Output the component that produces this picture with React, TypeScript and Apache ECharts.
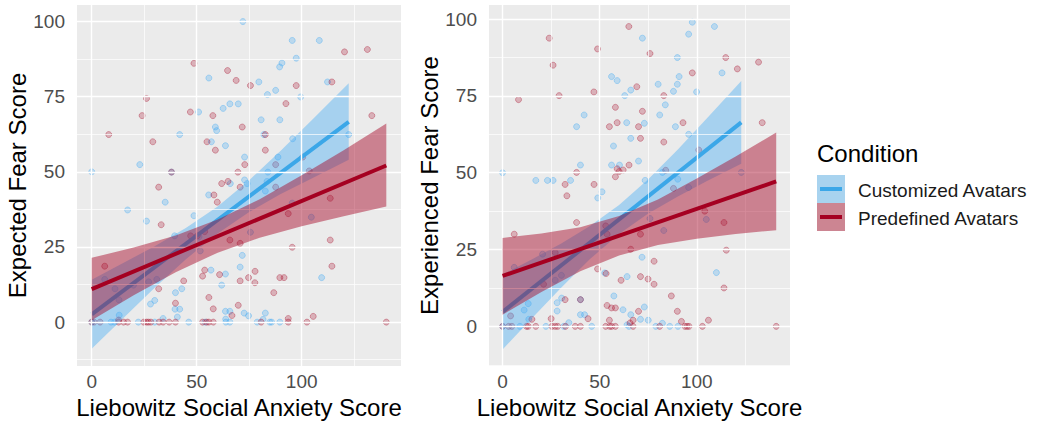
import React, { useEffect, useRef } from "react";
import * as echarts from "echarts";

// ---------- Data ----------
const xTicks = [0, 50, 100];
const xMinor = [25, 75, 125];
const yTicks = [0, 25, 50, 75, 100];
const yMinor = [-12.5, 12.5, 37.5, 62.5, 87.5];

const conditions = ["Customized Avatars", "Predefined Avatars"];

// Expected Fear (left panel) — scatter points [LSAS, fear]
const expectedCustomized: number[][] = [
  [72, 100], [95.5, 93.7], [108.4, 93.7], [97.4, 87.8], [90.6, 86.2], [89.5, 84.9], [55.8, 81.2], [79.6, 79.9],
  [112.3, 79.9], [87.6, 77.1], [83.7, 75.7], [99.5, 74.9], [65.8, 72.6], [69.8, 72.6], [62.6, 71.1], [50.9, 69.9],
  [80.7, 67.3], [89.6, 67.3], [58.9, 64.9], [59.5, 63.7], [41.9, 62.4], [82, 62.4], [57, 60], [63.7, 58.7],
  [95.7, 61], [122.4, 62.4], [22.9, 52.4], [0, 50], [72.8, 54.9], [88.7, 54.9], [83.9, 49.9], [72.8, 47.3],
  [66, 46.1], [74, 46.1], [82.7, 43.6], [55.7, 42.3], [35, 39.9], [17.1, 37.3], [26.1, 33.6], [48.7, 35.4],
  [95.5, 39.6], [104.6, 34.9], [75.6, 29.9], [39.5, 28.7], [51.1, 28.4], [83.5, 46.8], [38, 49.9],
  [71.7, 22.2], [70.7, 18.3], [56.8, 17.3], [63.7, 16], [61.9, 12.3], [109.5, 14.8], [31, 14.2], [27.1, 13.4],
  [19.9, 12.3], [6.2, 14.2], [11.1, 11.1], [42.9, 11.1], [39.9, 9.8], [13, 7.4], [30, 7.2], [28, 6],
  [39.7, 4.3], [41.9, 4.3], [63.7, 3.6], [65.8, 3.6], [72.6, 3], [74.7, 2.1], [82.7, 3], [81.6, 0.9],
  [13.1, 2.3], [40.8, 1.7], [34, 1.2], [63.8, 1], [51.7, 23.7],
  [0, 0], [9.2, 0], [10.9, 0], [22.2, 0], [30, 0], [46.2, 0], [54, 0], [63.9, 0], [65.8, 0], [78.8, 0],
  [84.8, 0], [85.7, 0], [89.6, 0],
];
const expectedPredefined: number[][] = [
  [120.4, 89.9], [131.3, 90.7], [48.7, 86.1], [64.7, 83.7], [68.8, 80.4], [75.6, 78.7], [97.4, 78.7], [114.4, 79.9],
  [26.1, 74.4], [92.5, 72.7], [24, 68.7], [47, 69.9], [57.7, 68.7], [133.4, 68.7], [71.7, 64.9],
  [8.1, 62.4], [29.1, 60], [54.9, 60], [58.9, 57.2], [82.7, 62.4], [82.7, 57.2], [72.9, 52.4], [69.6, 49.9],
  [38, 49.9], [87.6, 52.4], [64.9, 46.8], [61.9, 46.1], [70.7, 44.9], [31.9, 44.9], [87.6, 44.9], [103.6, 50.3],
  [58.2, 42.3], [59.8, 39.9], [113.6, 41.2], [93.6, 36.1], [33.1, 32.4], [53.8, 30.1], [47.1, 28.7], [50.3, 28.7],
  [65.8, 27.3], [70.7, 26.2], [95.5, 24.9], [113.6, 27.3], [100.5, 54.9],
  [6.2, 18.6], [114.4, 18.6], [53.8, 17.3], [52.8, 15.3], [60.9, 15.8], [77.8, 16.9], [74.7, 14.8], [77.7, 13.1],
  [70.7, 13.7], [89.6, 14.8], [91.6, 14.8], [43.8, 13.7], [31.9, 11.1], [55.8, 8.2], [86.7, 9.8], [39.9, 6.3],
  [57.9, 4.4], [69.8, 5.6], [66.8, 2.2], [93.6, 1.2], [105.5, 1.9], [12.8, 0.7],
  [0, 0], [1.1, 0], [4, 0], [12.8, 0], [15.2, 0], [17.1, 0], [24.8, 0], [26.1, 0], [27, 0], [28.2, 0],
  [32.1, 0], [34, 0], [36.9, 0], [39.9, 0], [52.8, 0], [54.7, 0], [55.8, 0], [57.9, 0], [80.7, 0], [93.6, 0],
  [102.5, 0], [140.3, 0],
];

// Experienced Fear (right panel)
const experiencedCustomized: number[][] = [
  [97.7, 99], [109.1, 97.6], [72, 93.8], [95.8, 95.1], [90, 87.5], [113, 82.5], [56.1, 81.3], [59, 80],
  [90.9, 81.3], [90, 78.8], [80.1, 78.8], [88, 76.5], [99.9, 76.3], [66, 76.9], [62.9, 75.1], [83.8, 72.1],
  [42, 68.8], [80.9, 68.8], [63.9, 66.3], [73, 66.1], [38.1, 65], [89, 65],
  [66, 61.2], [95.8, 62.5], [57.1, 58.7], [70, 53.8], [40.1, 52.5], [56.1, 52.5], [60.2, 52.5], [0, 50],
  [17.1, 47.5], [23.1, 47.5], [26, 47.5], [35, 47.5], [51.2, 43.8], [49, 41.8], [73.4, 47.5], [82.3, 50.1],
  [90.2, 47.9], [95.8, 45.2], [122.9, 50.1], [75.9, 35.1], [83, 31.2], [104.9, 34.8],
  [71.8, 22.5], [52.6, 17.4], [64.1, 16.2], [110.1, 17.5], [20.6, 23.5], [27.1, 15], [30.3, 16.6], [57.3, 9.9],
  [30.4, 9.2], [28.1, 7.7], [28.1, 5], [13.2, 7.4], [11.1, 5.3], [40.1, 3.8], [42.2, 3.8], [62, 5.4],
  [66, 3.8], [73, 6.3], [71, 2.3], [75, 2], [82.3, 1], [34.1, 1.2], [13.5, 2.3], [64.1, 0.5], [6, 19.2], [40.1, 8.7],
  [0, 0], [8.9, 0], [22.3, 0], [31.5, 0], [45.9, 0], [65.1, 0], [78.9, 0], [86.1, 0], [90.3, 0],
];
const experiencedPredefined: number[][] = [
  [65, 97.6], [24, 93.8], [26, 85], [48.9, 90.3], [75.9, 88.8], [114.9, 87.5], [131.8, 86], [120.9, 83.8],
  [97.7, 82.5], [69.1, 78], [29.1, 75.1], [47, 76.3], [83, 75.1], [8.2, 73.8], [58.1, 71.3], [72, 70],
  [59, 66.3], [55, 65], [70, 65], [92.9, 66.3], [133.7, 66.3],
  [83, 60], [71, 61.2], [101, 57.4], [65.1, 52.5], [59, 51.3], [62.1, 50.9], [58.1, 48.7], [60, 50.4],
  [38.1, 50.1], [32.2, 46.2], [47.1, 46.2], [33.1, 42.5], [84, 50.8], [88, 44.9], [38.1, 33.8], [6, 30],
  [53.1, 32.7], [53.8, 30], [71, 30], [104.1, 37.5], [114, 33.8], [66, 25.1], [115.2, 24.8],
  [27.1, 24], [48.9, 18.7], [53.3, 17.2], [78, 21.2], [61, 15], [71, 16.2], [74.9, 15.4], [78, 13.7],
  [21.1, 13.7], [86.9, 9.9], [114, 12.5], [32.2, 8.7], [40.1, 8.7], [53.8, 6.8], [56.1, 6], [58.1, 6],
  [70, 4.9], [90, 4.9], [44, 2.5], [25, 2.5], [15.1, 2.3], [4.1, 3.4], [55, 2], [67.2, 2], [92.1, 1.6],
  [106, 2], [65.6, 1.1],
  [0, 0], [3.1, 0], [4.8, 0], [12.3, 0], [13.2, 0], [17.1, 0], [25.4, 0], [27.1, 0], [28.4, 0], [32.4, 0],
  [37.4, 0], [40.1, 0], [53.1, 0], [55.2, 0], [56.2, 0], [58.1, 0], [67.2, 0], [80.9, 0], [93.9, 0], [95, 0],
  [96, 0], [102.9, 0], [140.9, 0],
];

// Regression fits (end points) and confidence bands [x, lower, upper]
const expCustFit = [[0, 2.6], [122.4, 66.6]];
const expPredFit = [[0, 11.0], [140.3, 52.1]];
const expCustBand = [
  [0, -8.9, 14.1], [15, 1.3, 19.7], [30, 11.4, 25.2], [45, 21.0, 31.4], [60, 29.5, 38.5],
  [75, 36.6, 47.2], [90, 42.6, 57.0], [105, 47.9, 67.3], [122.4, 54.0, 79.5],
];
const expPredBand = [
  [0, 0.6, 21.4], [20, 8.9, 24.8], [40, 16.6, 28.8], [60, 23.1, 34.1], [80, 28.1, 40.9],
  [100, 31.9, 48.9], [120, 35.2, 57.2], [140.3, 38.5, 66.1],
];
const experCustFit = [[0, 4.7], [122.9, 66.4]];
const experPredFit = [[0, 16.4], [140.9, 47.2]];
const experCustBand = [
  [0, -7.5, 16.9], [15, 2.6, 21.8], [30, 12.5, 26.9], [45, 21.9, 32.7], [60, 30.1, 39.5],
  [75, 36.7, 47.9], [90, 42.2, 57.4], [105, 47.2, 67.6], [122.9, 52.9, 79.9],
];
const experPredBand = [
  [0, 3.8, 28.8], [20, 11.2, 30.2], [40, 17.9, 32.3], [60, 23.1, 35.9], [80, 26.5, 41.3],
  [100, 28.5, 48.1], [120, 30.1, 55.3], [140.9, 31.3, 63.1],
];

// ---------- Styling ----------
const BLUE = "#3BA7E8";
const RED = "#A50021";
const BLUE_BAND = "rgba(63,169,245,0.4)";
const RED_BAND = "rgba(165,0,33,0.45)";
const BLUE_PT = "rgba(63,169,245,0.28)";
const BLUE_PT_EDGE = "rgba(63,169,245,0.45)";
const RED_PT = "rgba(165,0,33,0.25)";
const RED_PT_EDGE = "rgba(165,0,33,0.4)";
const FONT = "'Liberation Sans', Arial, Helvetica, sans-serif";
const TICK_FS = 19;
const TITLE_FS = 24;

function gridLines(idx: number) {
  const major = { color: "#FFFFFF", width: 1.4, type: "solid" };
  const minor = { color: "#FFFFFF", width: 0.7, type: "solid" };
  return {
    type: "scatter",
    xAxisIndex: idx,
    yAxisIndex: idx,
    data: [],
    z: 1,
    silent: true,
    markLine: {
      silent: true,
      symbol: ["none", "none"],
      label: { show: false },
      animation: false,
      data: [
        ...xMinor.map((v) => ({ xAxis: v, lineStyle: minor })),
        ...yMinor.map((v) => ({ yAxis: v, lineStyle: minor })),
        ...xTicks.map((v) => ({ xAxis: v, lineStyle: major })),
        ...yTicks.map((v) => ({ yAxis: v, lineStyle: major })),
      ],
    },
  };
}

function scatter(idx: number, data: number[][], fill: string, edge: string) {
  return {
    type: "scatter",
    xAxisIndex: idx,
    yAxisIndex: idx,
    data,
    symbolSize: 6,
    z: 2,
    silent: true,
    itemStyle: { color: fill, borderColor: edge, borderWidth: 0.8, opacity: 1 },
  };
}

function band(idx: number, rows: number[][], color: string, z: number) {
  return {
    type: "custom",
    xAxisIndex: idx,
    yAxisIndex: idx,
    z,
    silent: true,
    data: rows,
    encode: { x: 0, y: [1, 2] },
    renderItem: (params: any, api: any) => {
      if (params.dataIndex !== 0) return null;
      const top = rows.map((r) => api.coord([r[0], r[2]]));
      const bot = rows.map((r) => api.coord([r[0], r[1]])).reverse();
      return {
        type: "polygon",
        shape: { points: top.concat(bot) },
        style: { fill: color, stroke: "none" },
      };
    },
  };
}

function fitLine(idx: number, data: number[][], color: string, z: number) {
  return {
    type: "line",
    xAxisIndex: idx,
    yAxisIndex: idx,
    data,
    z,
    silent: true,
    symbol: "none",
    lineStyle: { color, width: 4, cap: "butt" },
  };
}

function xAxis(idx: number, min: number, max: number) {
  return {
    type: "value",
    gridIndex: idx,
    min,
    max,
    splitLine: { show: false },
    axisLine: { show: false },
    axisTick: { show: true, length: 4, lineStyle: { color: "#333333", width: 1 }, customValues: xTicks },
    axisLabel: { customValues: xTicks, color: "#4D4D4D", fontSize: TICK_FS, margin: 6, fontFamily: FONT },
    name: "Liebowitz Social Anxiety Score",
    nameLocation: "middle",
    nameGap: 29,
    nameTextStyle: { color: "#000000", fontSize: TITLE_FS, fontFamily: FONT },
  };
}

function yAxis(idx: number, min: number, max: number, name: string, gap: number) {
  return {
    type: "value",
    gridIndex: idx,
    min,
    max,
    splitLine: { show: false },
    axisLine: { show: false },
    axisTick: { show: true, length: 4, lineStyle: { color: "#333333", width: 1 }, customValues: yTicks },
    axisLabel: { customValues: yTicks, color: "#4D4D4D", fontSize: TICK_FS, margin: 12, fontFamily: FONT },
    name,
    nameLocation: "middle",
    nameGap: gap,
    nameTextStyle: { color: "#000000", fontSize: TITLE_FS, fontFamily: FONT },
  };
}

export default function App() {
  const ref = useRef<HTMLDivElement>(null);
  useEffect(() => {
    if (!ref.current) return;
    const chart = echarts.init(ref.current, undefined, { renderer: "svg" });
    const legendX = 817;
    chart.setOption({
      animation: false,
      backgroundColor: "#FFFFFF",
      textStyle: { fontFamily: FONT },
      grid: [
        { left: 77, top: 5, width: 324, height: 361, show: true, backgroundColor: "#EBEBEB", borderWidth: 0 },
        { left: 489, top: 5, width: 301, height: 361, show: true, backgroundColor: "#EBEBEB", borderWidth: 0 },
      ],
      xAxis: [xAxis(0, -7, 147.3), xAxis(1, -7, 148)],
      yAxis: [
        yAxis(0, -14.6, 105.5, "Expected Fear Score", 48),
        yAxis(1, -12.9, 104.6, "Experienced Fear Score", 42),
      ],
      series: [
        gridLines(0),
        gridLines(1),
        scatter(0, expectedCustomized, BLUE_PT, BLUE_PT_EDGE),
        scatter(0, expectedPredefined, RED_PT, RED_PT_EDGE),
        scatter(1, experiencedCustomized, BLUE_PT, BLUE_PT_EDGE),
        scatter(1, experiencedPredefined, RED_PT, RED_PT_EDGE),
        band(0, expCustBand, BLUE_BAND, 3),
        fitLine(0, expCustFit, BLUE, 4),
        band(0, expPredBand, RED_BAND, 5),
        fitLine(0, expPredFit, RED, 6),
        band(1, experCustBand, BLUE_BAND, 3),
        fitLine(1, experCustFit, BLUE, 4),
        band(1, experPredBand, RED_BAND, 5),
        fitLine(1, experPredFit, RED, 6),
      ],
      graphic: [
        {
          type: "text",
          x: legendX,
          y: 153,
          style: { text: "Condition", fontSize: 24, fill: "#000000", fontFamily: FONT, verticalAlign: "middle" },
        },
        { type: "rect", shape: { x: legendX, y: 175, width: 28, height: 28 }, style: { fill: "#A8D3EF" } },
        { type: "line", shape: { x1: legendX + 3, y1: 189, x2: legendX + 25, y2: 189 }, style: { stroke: BLUE, lineWidth: 4 } },
        {
          type: "text",
          x: 858,
          y: 190,
          style: { text: conditions[0], fontSize: TICK_FS, fill: "#1A1A1A", fontFamily: FONT, verticalAlign: "middle" },
        },
        { type: "rect", shape: { x: legendX, y: 203, width: 28, height: 28 }, style: { fill: "#CC8592" } },
        { type: "line", shape: { x1: legendX + 3, y1: 217, x2: legendX + 25, y2: 217 }, style: { stroke: RED, lineWidth: 4 } },
        {
          type: "text",
          x: 858,
          y: 218,
          style: { text: conditions[1], fontSize: TICK_FS, fill: "#1A1A1A", fontFamily: FONT, verticalAlign: "middle" },
        },
      ],
    });
    return () => chart.dispose();
  }, []);
  return (
    <div
      ref={ref}
      style={{ position: "fixed", left: 0, top: 0, width: 1044, height: 425, background: "#FFFFFF" }}
    />
  );
}
